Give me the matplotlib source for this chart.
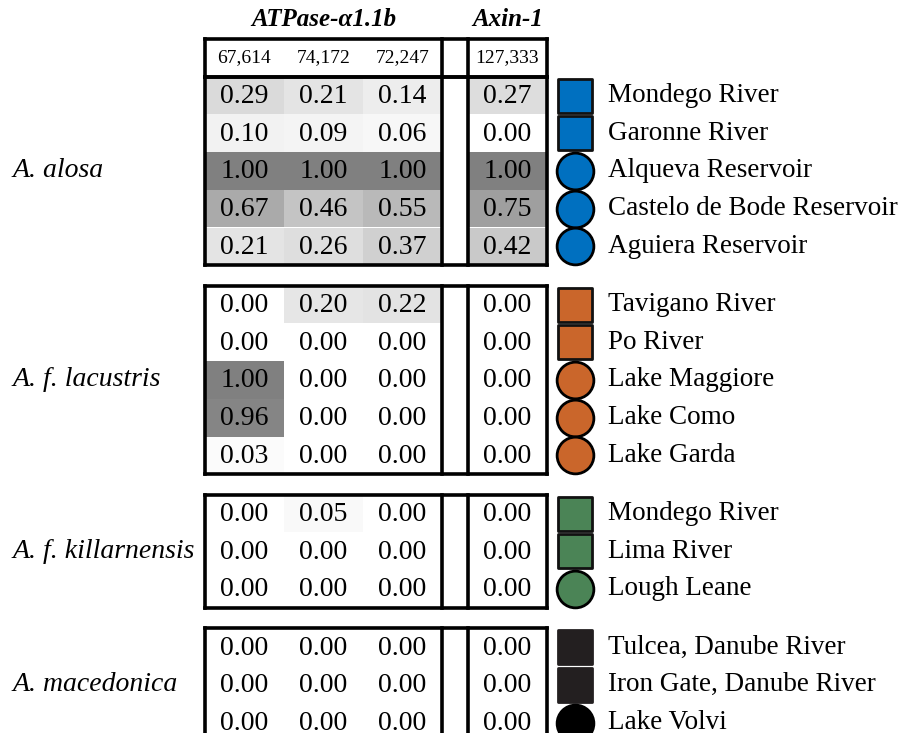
import matplotlib
matplotlib.use("Agg")
import matplotlib.pyplot as plt
from matplotlib.patches import Rectangle

# ---- data -------------------------------------------------------------
gene_titles = ["ATPase-α1.1b", "Axin-1"]
atpase_counts = ["67,614", "74,172", "72,247"]
axin_counts = ["127,333"]

species = ["A. alosa", "A. f. lacustris", "A. f. killarnensis", "A. macedonica"]

sites = [
    ["Mondego River", "Garonne River", "Alqueva Reservoir",
     "Castelo de Bode Reservoir", "Aguiera Reservoir"],
    ["Tavigano River", "Po River", "Lake Maggiore", "Lake Como", "Lake Garda"],
    ["Mondego River", "Lima River", "Lough Leane"],
    ["Tulcea, Danube River", "Iron Gate, Danube River", "Lake Volvi"],
]

site_kind = [
    ["river", "river", "lake", "lake", "lake"],
    ["river", "river", "lake", "lake", "lake"],
    ["river", "river", "lake"],
    ["river", "river", "lake"],
]

atpase_alosa = [[0.29, 0.21, 0.14], [0.10, 0.09, 0.06], [1.00, 1.00, 1.00],
                [0.67, 0.46, 0.55], [0.21, 0.26, 0.37]]
atpase_lacustris = [[0.00, 0.20, 0.22], [0.00, 0.00, 0.00], [1.00, 0.00, 0.00],
                    [0.96, 0.00, 0.00], [0.03, 0.00, 0.00]]
atpase_killarnensis = [[0.00, 0.05, 0.00], [0.00, 0.00, 0.00], [0.00, 0.00, 0.00]]
atpase_macedonica = [[0.00, 0.00, 0.00], [0.00, 0.00, 0.00], [0.00, 0.00, 0.00]]

axin_alosa = [0.27, 0.00, 1.00, 0.75, 0.42]
axin_lacustris = [0.00, 0.00, 0.00, 0.00, 0.00]
axin_killarnensis = [0.00, 0.00, 0.00]
axin_macedonica = [0.00, 0.00, 0.00]

atpase_values = [atpase_alosa, atpase_lacustris, atpase_killarnensis, atpase_macedonica]
axin_values = [axin_alosa, axin_lacustris, axin_killarnensis, axin_macedonica]

group_colors = ["#0070C0", "#CA662B", "#4B8456", "#231F20"]
marker_edges = ["#111111", "#111111", "#111111", "#231F20"]

# ---- layout (axes units = pixels) ---------------------------------------
W, H = 898, 733
SERIF = "Liberation Serif"
ROW_H = 37.7
GAP = 20.5
HEADER_TOP = 39.0
X_LEFT = 205.0
COL_W = 79.0
SPACER_W = 26.0
N_ATP = 3
x_atp_right = X_LEFT + N_ATP * COL_W
x_axin_left = x_atp_right + SPACER_W
x_axin_right = x_axin_left + COL_W
MARK_X = 575.0
LABEL_X = 608.0
BORDER_LW = 2.6


def gray(v):
    g = 1.0 - 0.5 * v
    return (g, g, g)


fig = plt.figure(figsize=(W / 100, H / 100), dpi=100)
ax = fig.add_axes([0, 0, 1, 1])
ax.set_xlim(0, W)
ax.set_ylim(H, 0)
ax.axis("off")


def draw_box(top, bottom):
    kw = dict(color="black", lw=BORDER_LW, solid_capstyle="projecting", zorder=5)
    ax.plot([X_LEFT, x_axin_right], [top, top], **kw)
    ax.plot([X_LEFT, x_axin_right], [bottom, bottom], **kw)
    for xv in (X_LEFT, x_atp_right, x_axin_left, x_axin_right):
        ax.plot([xv, xv], [top, bottom], **kw)


col_centers = [X_LEFT + (i + 0.5) * COL_W for i in range(N_ATP)]
axin_center = x_axin_left + COL_W / 2

# gene titles
ax.text((X_LEFT + x_atp_right) / 2, 19, gene_titles[0], family=SERIF,
        fontsize=18, fontweight="bold", style="italic", ha="center", va="center")
ax.text(axin_center, 19, gene_titles[1], family=SERIF,
        fontsize=18, fontweight="bold", style="italic", ha="center", va="center")

# header row with counts
header_bottom = HEADER_TOP + ROW_H
hy = (HEADER_TOP + header_bottom) / 2
for cx, lab in zip(col_centers, atpase_counts):
    ax.text(cx, hy, lab, family=SERIF, fontsize=14, ha="center", va="center")
ax.text(axin_center, hy, axin_counts[0], family=SERIF, fontsize=14,
        ha="center", va="center")
draw_box(HEADER_TOP, header_bottom)

# groups
top = header_bottom
for g, sp in enumerate(species):
    n = len(sites[g])
    bottom = top + n * ROW_H
    for r in range(n):
        y0 = top + r * ROW_H
        yc = y0 + ROW_H / 2
        for c in range(N_ATP):
            v = atpase_values[g][r][c]
            x0 = X_LEFT + c * COL_W
            ax.add_patch(Rectangle((x0, y0), COL_W, ROW_H, facecolor=gray(v),
                                   edgecolor="none", zorder=1))
            ax.text(col_centers[c], yc + 1, f"{v:.2f}", family=SERIF, fontsize=20,
                    ha="center", va="center", zorder=3)
        v = axin_values[g][r]
        ax.add_patch(Rectangle((x_axin_left, y0), COL_W, ROW_H, facecolor=gray(v),
                               edgecolor="none", zorder=1))
        ax.text(axin_center, yc + 1, f"{v:.2f}", family=SERIF, fontsize=20,
                ha="center", va="center", zorder=3)

        # site marker and label
        if site_kind[g][r] == "river":
            ax.scatter([MARK_X], [yc], marker="s", s=590, facecolor=group_colors[g],
                       edgecolor=marker_edges[g], linewidth=2.0, zorder=4)
        else:
            edge = "black"
            face = "black" if g == 3 else group_colors[g]
            ax.scatter([MARK_X], [yc], marker="o", s=700, facecolor=face,
                       edgecolor=edge, linewidth=2.0, zorder=4)
        ax.text(LABEL_X, yc, sites[g][r], family=SERIF, fontsize=19.5,
                ha="left", va="center")

    draw_box(top, bottom)
    ax.text(13, (top + bottom) / 2, sp, family=SERIF, fontsize=20,
            style="italic", ha="left", va="center")
    top = bottom + GAP

fig.savefig("out.png", dpi=100)
